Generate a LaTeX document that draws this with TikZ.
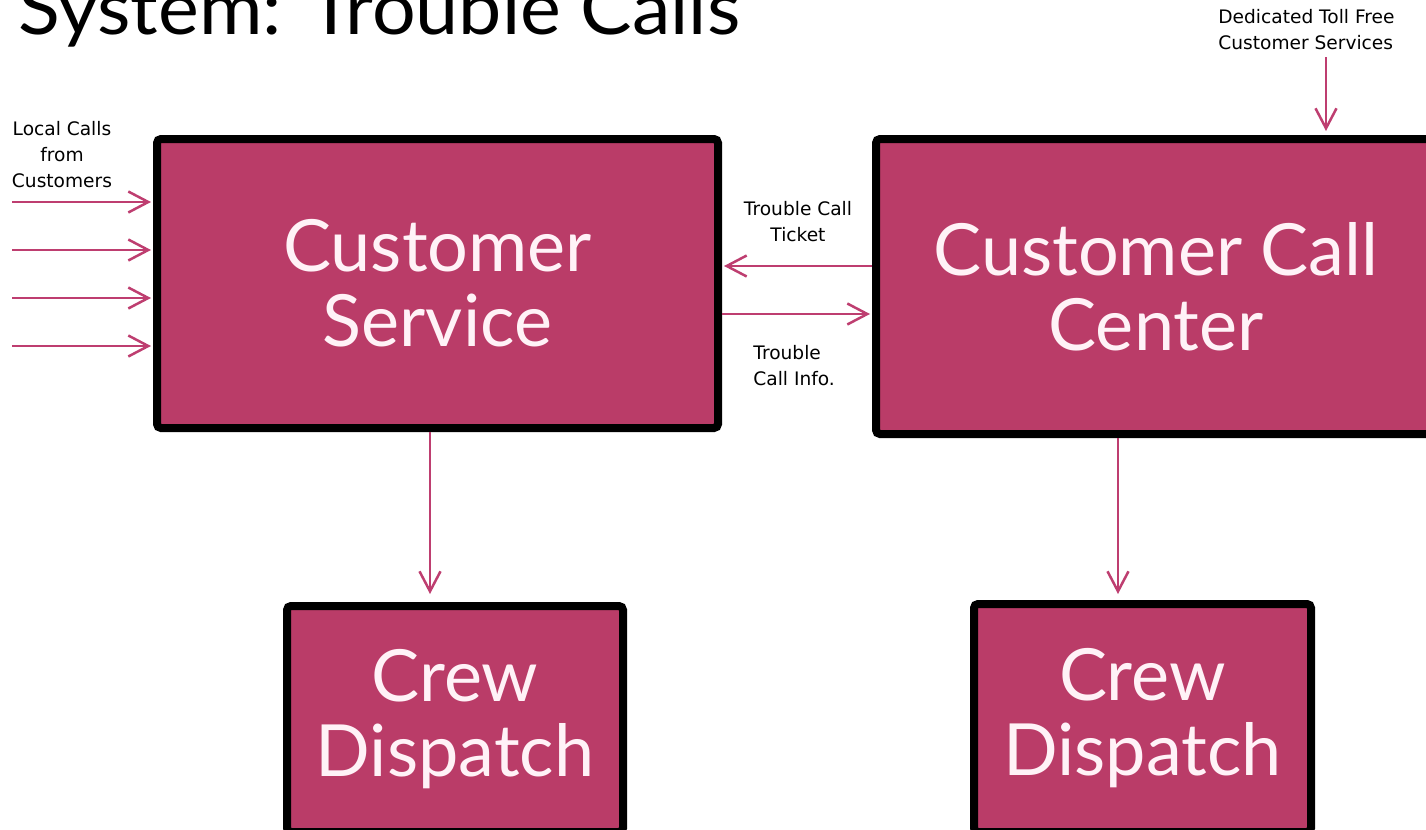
\documentclass[tikz,border=0pt]{standalone}
\usepackage{fontspec}
\usepackage{graphicx}
\usetikzlibrary{arrows.meta}
\newfontfamily\boxfont{Lato}
\newfontfamily\titlefont{Lato}
\newfontfamily\labelfont{DejaVu Sans}
\definecolor{boxfill}{RGB}{186,60,104}
\definecolor{flowcol}{RGB}{190,62,112}
\definecolor{boxtext}{RGB}{255,242,247}

\begin{document}
\begin{tikzpicture}[x=0.5pt,y=-0.5pt,
  block/.style={draw=black, line width=4pt, fill=boxfill, rounded corners=2pt,
    text=boxtext, font=\boxfont\fontsize{36}{37.5}\selectfont, align=center, inner sep=0pt},
  flow/.style={draw=flowcol, line width=1.25pt,
    -{Straight Barb[length=10pt,width=10.5pt,line width=1.25pt]}},
  lbl/.style={font=\labelfont\fontsize{9.3}{13}\selectfont, inner sep=0pt}]

\clip (0,0) rectangle (1426,830);
\useasboundingbox (0,0) rectangle (1426,830);

% title
\node[anchor=base west, inner sep=0pt] (title) at (18,35)
  {\resizebox{361pt}{\height}{\titlefont\fontsize{37}{40}\selectfont System: Trouble Calls}};

% boxes
\node[block, minimum width=280.5pt, minimum height=144.5pt] (cs) at (437.5,283.5) {Customer\\Service};
\node[block, minimum width=280pt, minimum height=147.5pt] (cc) at (1156,286.5) {Customer Call\\Center};
\node[block, minimum width=168pt, minimum height=113pt] (cd1) at (455,719) {Crew\\Dispatch};
\node[block, minimum width=168.5pt, minimum height=114pt] (cd2) at (1142.5,718) {Crew\\Dispatch};

% labels
\node[lbl, align=center] (local) at (62,155) {Local Calls\\from\\Customers};
\node[lbl, align=center] (ticket) at (798,222) {Trouble Call\\Ticket};
\node[lbl, align=left, anchor=west] (info) at (753,366) {Trouble\\Call Info.};
\node[lbl, align=left, anchor=west] (toll) at (1218,30) {Dedicated Toll Free\\Customer Services};

% incoming local calls
\foreach \y/\n in {202/1,250/2,298/3,346/4} {
  \coordinate (in\n) at (12,\y);
  \draw[flow, shorten >=1pt] (in\n) -- (in\n -| cs.west);
}

% exchanges between the two centres
\draw[flow, shorten >=1pt] (cc.west |- 0,266) -- (cs.east |- 0,266);
\draw[flow, shorten >=1pt] (cs.east |- 0,314) -- (cc.west |- 0,314);

% toll free line
\coordinate (tollin) at (1326,57);
\draw[flow, shorten >=2pt] (tollin) -- (cc.north -| tollin);

% dispatch
\draw[flow, shorten >=4pt] (cs.south -| 430,0) -- (cd1.north -| 430,0);
\draw[flow, shorten >=3pt] (cc.south -| 1118,0) -- (cd2.north -| 1118,0);
\end{tikzpicture}
\end{document}
